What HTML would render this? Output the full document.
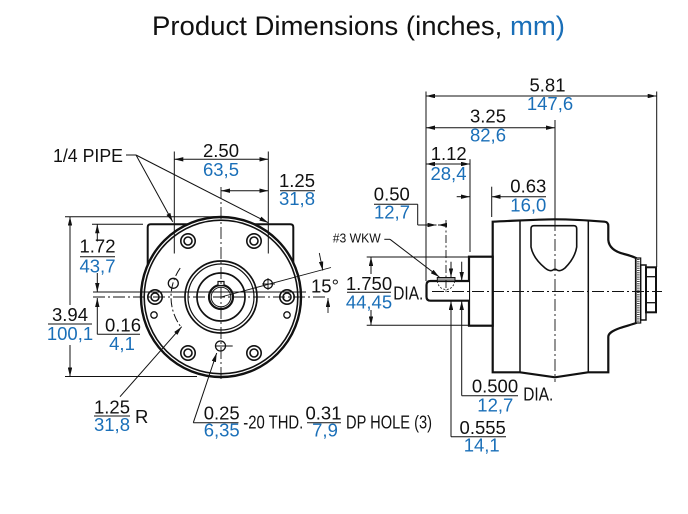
<!DOCTYPE html>
<html><head><meta charset="utf-8"><style>
html,body{margin:0;padding:0;background:#fff;}
svg{display:block;}
text{font-family:"Liberation Sans",Arial,sans-serif;}
</style></head><body>
<svg width="688" height="514" viewBox="0 0 688 514" xmlns="http://www.w3.org/2000/svg">
<defs>
<marker id="ar" markerUnits="userSpaceOnUse" markerWidth="9" markerHeight="4.4" refX="9" refY="2.2" orient="auto-start-reverse" viewBox="0 0 9 4.4"><path d="M0,0 L9,2.2 L0,4.4z" fill="#111"/></marker>
</defs>
<rect width="688" height="514" fill="#fff"/>

<!-- Title -->
<text x="152" y="35" font-size="27" fill="#111" textLength="413" lengthAdjust="spacingAndGlyphs">Product Dimensions (inches, <tspan fill="#1a6fb8">mm)</tspan></text>

<!-- ================= LEFT VIEW ================= -->
<path d="M147.7,268 V227.3 Q147.7,224.3 150.7,224.3 H290.3 Q293.3,224.3 293.3,227.3 V268" fill="none" stroke="#111" stroke-width="2"/>
<circle cx="221" cy="297" r="80" fill="#fff" stroke="#111" stroke-width="2.4"/>
<circle cx="221" cy="297" r="76.8" fill="none" stroke="#111" stroke-width="1.6"/>
<!-- hub -->
<g fill="none" stroke="#111">
<circle cx="221" cy="297" r="36" stroke-width="1.7"/>
<circle cx="221" cy="297" r="33" stroke-width="1.2"/>
<circle cx="221" cy="297" r="24" stroke-width="1.7"/>
<circle cx="221" cy="297" r="12" stroke-width="2.2"/>
<circle cx="221" cy="297" r="9.8" stroke-width="1"/>
<rect x="218" y="281.5" width="6" height="4" stroke-width="1.2" fill="#fff"/>
<!-- bolt holes -->
<g stroke-width="1.6">
<circle cx="188" cy="241" r="7.2"/><circle cx="188" cy="241" r="4"/>
<circle cx="254" cy="241" r="7.2"/><circle cx="254" cy="241" r="4"/>
<circle cx="155" cy="297" r="7.2"/><circle cx="155" cy="297" r="4"/>
<circle cx="287" cy="297" r="7.2"/><circle cx="287" cy="297" r="4"/>
<circle cx="188" cy="353" r="7.2"/><circle cx="188" cy="353" r="4"/>
<circle cx="254" cy="353" r="7.2"/><circle cx="254" cy="353" r="4"/>
</g>
<g stroke-width="1.3">
<circle cx="154" cy="315" r="3.2"/>
<circle cx="287" cy="315" r="3.2"/>
<circle cx="173.3" cy="283.3" r="5"/>
<circle cx="268" cy="284" r="4.5"/>
<circle cx="220.5" cy="346" r="5"/>
</g>
</g>
<!-- bolt circle arc -->
<path d="M180.2,268.1 A50,50 0 0 0 181.1,327.1" fill="none" stroke="#111" stroke-width="1" stroke-dasharray="9,2.5,2,2.5"/>
<!-- hole crosshairs -->
<g stroke="#111" stroke-width="0.9">
<line x1="262" y1="284" x2="275" y2="284"/>
<line x1="268" y1="278" x2="268" y2="290"/>
<line x1="215" y1="346" x2="232.7" y2="346"/>
</g>

<!-- center lines left -->
<g stroke="#111" stroke-width="0.9" fill="none">
<line x1="221" y1="187" x2="221" y2="382" stroke-dasharray="12,3,2,3"/>
<line x1="93" y1="297" x2="328" y2="297" stroke-dasharray="12,3,2,3"/>
<line x1="93" y1="292" x2="306" y2="292"/>
<!-- 15 deg line -->
<line x1="221" y1="297" x2="331" y2="267.5"/>
<line x1="319.3" y1="253" x2="322.8" y2="270.5" marker-end="url(#ar)"/>
<line x1="328" y1="313" x2="328" y2="298" marker-end="url(#ar)"/>
</g>

<!-- dims left -->
<g stroke="#111" stroke-width="1" fill="none">
<line x1="126" y1="155" x2="136" y2="155"/>
<line x1="136" y1="155" x2="172.7" y2="221.7" marker-end="url(#ar)"/>
<line x1="136" y1="155" x2="268.3" y2="222.7" marker-end="url(#ar)"/>
<line x1="174.3" y1="151.5" x2="174.3" y2="253.5"/>
<line x1="268.3" y1="151.5" x2="268.3" y2="253.5"/>
<line x1="174.3" y1="159.3" x2="268.3" y2="159.3" marker-start="url(#ar)" marker-end="url(#ar)"/>
<line x1="221" y1="190.7" x2="268.3" y2="190.7" marker-start="url(#ar)" marker-end="url(#ar)"/>
<line x1="280" y1="190.7" x2="315" y2="190.7"/>
<line x1="92" y1="224.3" x2="143" y2="224.3"/>
<line x1="97.3" y1="241.5" x2="97.3" y2="224.3" marker-end="url(#ar)"/>
<line x1="97.3" y1="273" x2="97.3" y2="292" marker-end="url(#ar)"/>
<line x1="80" y1="256.7" x2="115" y2="256.7"/>
<line x1="65" y1="216.7" x2="216" y2="216.7"/>
<line x1="65" y1="376.5" x2="197" y2="376.5"/>
<line x1="70" y1="305" x2="70" y2="216.7" marker-end="url(#ar)"/>
<line x1="70" y1="345" x2="70" y2="376.5" marker-end="url(#ar)"/>
<line x1="48" y1="324" x2="92" y2="324"/>
<line x1="97.3" y1="334.3" x2="97.3" y2="298" marker-end="url(#ar)"/>
<line x1="97.3" y1="334.3" x2="140" y2="334.3"/>
<line x1="120" y1="396.7" x2="181.7" y2="326.7" marker-end="url(#ar)"/>
<line x1="94" y1="416" x2="130" y2="416"/>
<line x1="193.3" y1="422.7" x2="216.7" y2="353" marker-end="url(#ar)"/>
<line x1="193.3" y1="422.7" x2="238.5" y2="422.7"/>
<line x1="307" y1="422.7" x2="341" y2="422.7"/>
</g>

<!-- left texts -->
<g font-size="18.5" fill="#111">
<text x="53" y="162" textLength="70" lengthAdjust="spacingAndGlyphs">1/4 PIPE</text>
<text x="221" y="157" text-anchor="middle">2.50</text>
<text x="297" y="187" text-anchor="middle">1.25</text>
<text x="97.5" y="252.7" text-anchor="middle">1.72</text>
<text x="70" y="321" text-anchor="middle">3.94</text>
<text x="123" y="331.7" text-anchor="middle">0.16</text>
<text x="112" y="413.3" text-anchor="middle">1.25</text>
<text x="135" y="423">R</text>
<text x="221.7" y="419.3" text-anchor="middle">0.25</text>
<text x="243.3" y="428.3" textLength="60" lengthAdjust="spacingAndGlyphs">-20 THD.</text>
<text x="323.5" y="419.3" text-anchor="middle">0.31</text>
<text x="346" y="428.3" textLength="86" lengthAdjust="spacingAndGlyphs">DP HOLE (3)</text>
<text x="311" y="292.3">15°</text>
</g>
<g font-size="18.5" fill="#1a6fb8">
<text x="221" y="176" text-anchor="middle">63,5</text>
<text x="297" y="205" text-anchor="middle">31,8</text>
<text x="97.5" y="272.7" text-anchor="middle">43,7</text>
<text x="70" y="340" text-anchor="middle">100,1</text>
<text x="122" y="350" text-anchor="middle">4,1</text>
<text x="112" y="431" text-anchor="middle">31,8</text>
<text x="221.7" y="436.7" text-anchor="middle">6,35</text>
<text x="325" y="436.7" text-anchor="middle">7,9</text>
</g>

<!-- ================= RIGHT VIEW ================= -->
<path d="M492.7,372.3 V221.7 C520,220.5 540,219.3 555,219.3 C570,219.3 590,220.5 604.5,221.7 Q608.3,222 608.3,226 V240 C609,248 616,252 624,254 C630,255.5 634,257 636,258 L636,323 C632,324.5 626,326 620,328 C613,330.5 608.3,333 608.3,337 V372.3 H588 L555,377.3 L520,372.3 Z" fill="#fff" stroke="#111" stroke-width="2.2"/>
<g stroke="#111" fill="none">
<line x1="520" y1="220.5" x2="520" y2="372.3" stroke-width="1.5"/>
<line x1="588.3" y1="220.8" x2="588.3" y2="372.3" stroke-width="1.5"/>
<path d="M531,228.7 Q531,225.7 534,225.7 L573.7,225.7 Q576.7,225.7 576.7,228.7 L576.7,247 Q575,258 565,268 Q560,272 557,270 Q555,268.5 553,270 Q550,272 545,268 Q533,258 531,247 Z" stroke-width="1.6"/>
</g>
<rect x="636" y="258" width="4.7" height="65" fill="#fff" stroke="#111" stroke-width="1.2"/>
<line x1="638.3" y1="259" x2="638.3" y2="322" stroke="#444" stroke-width="2.6" stroke-dasharray="1,1.2"/>
<rect x="640.7" y="265" width="5.3" height="55" fill="#fff" stroke="#111" stroke-width="1.5"/>
<rect x="646" y="267.3" width="10" height="45" fill="#fff" stroke="#111" stroke-width="2"/>
<line x1="646" y1="276.7" x2="656" y2="276.7" stroke="#111" stroke-width="1.3"/>
<line x1="646" y1="302.7" x2="656" y2="302.7" stroke="#111" stroke-width="1.3"/>
<rect x="469" y="256.7" width="23.7" height="69" fill="#fff" stroke="#111" stroke-width="2.2"/>
<path d="M469,281 H430.5 Q426.5,281 426.5,285 V296.7 Q426.5,300.7 430.5,300.7 H469" fill="#fff" stroke="#111" stroke-width="2.2"/>
<path d="M437.5,281 A8.5,8.5 0 0 0 454.5,281" fill="none" stroke="#111" stroke-width="0.8" stroke-dasharray="2,1.5"/>
<rect x="437.3" y="277.5" width="17.7" height="3.6" fill="#9a9a9a" stroke="#111" stroke-width="1"/>

<g stroke="#111" stroke-width="0.9" fill="none">
<line x1="432" y1="291.5" x2="662" y2="291.5" stroke-dasharray="12,3,2,3"/>
<line x1="555" y1="219" x2="555" y2="382" stroke-dasharray="12,3,2,3"/>
<line x1="446" y1="220" x2="446" y2="292" stroke-dasharray="8,2.5,2,2.5"/>
</g>

<g stroke="#111" stroke-width="1" fill="none">
<line x1="426" y1="91.5" x2="426" y2="281"/>
<line x1="656.7" y1="91.5" x2="656.7" y2="267"/>
<line x1="426" y1="96" x2="656.7" y2="96" marker-start="url(#ar)" marker-end="url(#ar)"/>
<line x1="555" y1="120" x2="555" y2="219"/>
<line x1="426" y1="127.7" x2="555" y2="127.7" marker-start="url(#ar)" marker-end="url(#ar)"/>
<line x1="470" y1="159.3" x2="470" y2="252"/>
<line x1="426" y1="164" x2="470" y2="164" marker-start="url(#ar)" marker-end="url(#ar)"/>
<line x1="491.7" y1="186.7" x2="491.7" y2="217"/>
<line x1="456.7" y1="196.7" x2="470" y2="196.7" marker-end="url(#ar)"/>
<line x1="546" y1="196.7" x2="491.7" y2="196.7" marker-end="url(#ar)"/>
<line x1="374" y1="204.3" x2="417.7" y2="204.3"/>
<line x1="417.7" y1="204.3" x2="417.7" y2="225"/>
<line x1="417.7" y1="225" x2="436.5" y2="225" marker-end="url(#ar)"/>
<line x1="446" y1="225" x2="438" y2="225" marker-end="url(#ar)"/>
<line x1="384.3" y1="239.3" x2="390" y2="239.3"/>
<line x1="390" y1="239.3" x2="439.3" y2="277" marker-end="url(#ar)"/>
<line x1="366.7" y1="257" x2="468" y2="257"/>
<line x1="366.7" y1="325.3" x2="468" y2="325.3"/>
<line x1="371" y1="274" x2="371" y2="257" marker-end="url(#ar)"/>
<line x1="371" y1="310" x2="371" y2="325.3" marker-end="url(#ar)"/>
<line x1="347" y1="292.3" x2="391" y2="292.3"/>
<line x1="451" y1="261.7" x2="451" y2="277.3" marker-end="url(#ar)"/>
<line x1="461.7" y1="261.7" x2="461.7" y2="281" marker-end="url(#ar)"/>
<line x1="451" y1="436.7" x2="451" y2="301" marker-end="url(#ar)"/>
<line x1="461.7" y1="395.7" x2="461.7" y2="301" marker-end="url(#ar)"/>
<line x1="461.7" y1="395.7" x2="518" y2="395.7"/>
<line x1="451" y1="436.7" x2="506" y2="436.7"/>
</g>

<g font-size="18.5" fill="#111">
<text x="547.5" y="91.7" text-anchor="middle">5.81</text>
<text x="488" y="122.7" text-anchor="middle">3.25</text>
<text x="448.7" y="160" text-anchor="middle">1.12</text>
<text x="528.3" y="192.7" text-anchor="middle">0.63</text>
<text x="391.8" y="200.7" text-anchor="middle">0.50</text>
<text x="369" y="290" text-anchor="middle">1.750</text>
<text x="393.3" y="299.3" textLength="30" lengthAdjust="spacingAndGlyphs">DIA.</text>
<text x="495" y="392.7" text-anchor="middle">0.500</text>
<text x="523.3" y="400.7" textLength="30" lengthAdjust="spacingAndGlyphs">DIA.</text>
<text x="482.7" y="434" text-anchor="middle">0.555</text>
<text x="332.7" y="242.7" font-size="13" textLength="48" lengthAdjust="spacingAndGlyphs">#3 WKW</text>
</g>
<g font-size="18.5" fill="#1a6fb8">
<text x="550" y="110" text-anchor="middle">147,6</text>
<text x="488" y="141.7" text-anchor="middle">82,6</text>
<text x="448.5" y="180" text-anchor="middle">28,4</text>
<text x="528.3" y="211.7" text-anchor="middle">16,0</text>
<text x="392" y="218.3" text-anchor="middle">12,7</text>
<text x="369" y="308.3" text-anchor="middle">44,45</text>
<text x="495.3" y="411.7" text-anchor="middle">12,7</text>
<text x="481.7" y="451.7" text-anchor="middle">14,1</text>
</g>
</svg>
</body></html>
